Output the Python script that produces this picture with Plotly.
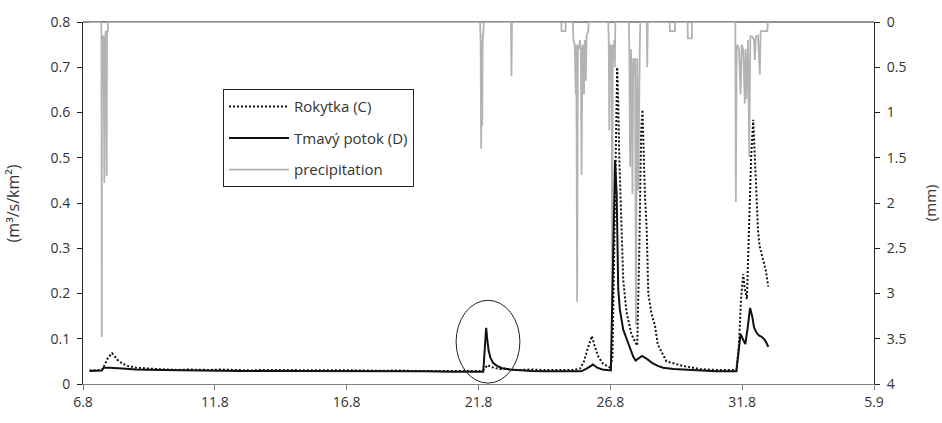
import plotly.graph_objects as go

# x axis: days since 6.8 (6 August)
tick_days = [0, 5, 10, 15, 20, 25, 30]
tick_labels = ["6.8", "11.8", "16.8", "21.8", "26.8", "31.8", "5.9"]

# Rokytka (C) specific discharge, m3/s/km2
rok_day = [0.25, 0.5, 0.72, 0.8, 0.95, 1.1, 1.2, 1.35, 1.5, 1.7, 2.0, 2.4, 2.8, 3.2, 3.6, 4.0, 4.4,
           4.8, 5.2, 5.6, 6.0, 6.4, 6.8, 7.2, 7.6, 8.0, 8.4, 8.8, 9.2, 9.6, 10.0, 10.4, 10.8, 11.2,
           11.6, 12.0, 12.4, 12.8, 13.2, 13.6, 14.0, 14.4, 14.8, 15.1, 15.2, 15.35, 15.45, 15.6,
           15.8, 16.0, 16.3, 16.6, 17.0, 17.4, 17.8, 18.2, 18.6, 18.85, 19.0, 19.15, 19.3, 19.4,
           19.55, 19.72, 19.85, 20.0, 20.08, 20.15, 20.22, 20.26, 20.3, 20.34, 20.43, 20.49, 20.61,
           20.8, 20.95, 21.02, 21.1, 21.17, 21.22, 21.25, 21.31, 21.38, 21.44, 21.56, 21.69, 21.8,
           22.13, 22.75, 23.4, 24.0, 24.4, 24.78, 24.87, 24.96, 25.04, 25.1, 25.18, 25.26, 25.34,
           25.42, 25.46, 25.5, 25.54, 25.6, 25.66, 25.74, 25.82, 25.9, 25.99]
rok_q = [0.030, 0.030, 0.031, 0.040, 0.058, 0.068, 0.062, 0.051, 0.045, 0.040, 0.036, 0.034, 0.033,
         0.032, 0.031, 0.032, 0.031, 0.031, 0.032, 0.031, 0.031, 0.030, 0.031, 0.031, 0.030, 0.031,
         0.030, 0.030, 0.031, 0.030, 0.030, 0.031, 0.030, 0.029, 0.030, 0.030, 0.029, 0.029, 0.030,
         0.029, 0.029, 0.030, 0.029, 0.029, 0.032, 0.042, 0.038, 0.036, 0.033, 0.034, 0.031, 0.031,
         0.032, 0.031, 0.031, 0.030, 0.031, 0.034, 0.050, 0.080, 0.106, 0.085, 0.060, 0.045, 0.040,
         0.036, 0.060, 0.330, 0.620, 0.700, 0.620, 0.500, 0.336, 0.230, 0.160, 0.110, 0.092, 0.085,
         0.300, 0.560, 0.606, 0.520, 0.420, 0.340, 0.200, 0.155, 0.130, 0.087, 0.050, 0.040, 0.033,
         0.031, 0.031, 0.031, 0.080, 0.190, 0.243, 0.210, 0.188, 0.340, 0.500, 0.584, 0.530, 0.460,
         0.405, 0.340, 0.305, 0.285, 0.270, 0.250, 0.215]

# Tmavy potok (D) specific discharge, m3/s/km2
tma_day = [0.25, 0.5, 0.71, 0.78, 1.0, 1.5, 2.0, 3.0, 4.0, 5.0, 6.0, 7.0, 8.0, 9.0, 10.0, 11.0, 12.0,
           13.0, 14.0, 15.0, 15.18, 15.24, 15.29, 15.33, 15.38, 15.45, 15.55, 15.7, 15.9, 16.2, 16.6,
           17.0, 17.5, 18.0, 18.5, 18.9, 19.1, 19.34, 19.5, 19.7, 20.02, 20.1, 20.18, 20.24, 20.26,
           20.3, 20.36, 20.49, 20.68, 20.87, 20.96, 21.1, 21.2, 21.4, 21.6, 21.8, 22.0, 22.4, 23.0,
           23.5, 24.0, 24.5, 24.78, 24.86, 24.94, 25.02, 25.12, 25.2, 25.3, 25.38, 25.45, 25.55,
           25.65, 25.75, 25.85, 25.93, 25.99]
tma_q = [0.029, 0.029, 0.030, 0.036, 0.036, 0.034, 0.032, 0.031, 0.030, 0.030, 0.029, 0.029, 0.029,
         0.029, 0.028, 0.028, 0.028, 0.028, 0.027, 0.027, 0.027, 0.080, 0.124, 0.100, 0.075, 0.058,
         0.047, 0.040, 0.035, 0.032, 0.030, 0.029, 0.028, 0.028, 0.027, 0.028, 0.034, 0.043, 0.036,
         0.032, 0.030, 0.300, 0.495, 0.420, 0.300, 0.210, 0.165, 0.120, 0.090, 0.060, 0.052, 0.058,
         0.062, 0.055, 0.046, 0.040, 0.036, 0.033, 0.031, 0.029, 0.028, 0.028, 0.028, 0.070, 0.110,
         0.100, 0.088, 0.120, 0.168, 0.150, 0.125, 0.113, 0.107, 0.104, 0.098, 0.090, 0.082]

# precipitation, mm
p_day = [0.25, 0.69, 0.70, 0.71, 0.72, 0.74, 0.75, 0.76, 0.78, 0.81, 0.82, 0.84, 0.86, 0.90, 0.91,
         0.94, 0.95,
         15.06, 15.08, 15.10, 15.12, 15.14, 15.16, 15.18, 15.20,
         16.23, 16.25, 16.27,
         18.14, 18.15, 18.30, 18.31,
         18.58, 18.60, 18.65, 18.69, 18.71, 18.74, 18.77, 18.81, 18.85, 18.88, 18.91, 18.94, 18.97,
         19.00, 19.03, 19.07, 19.10, 19.16, 19.18,
         19.92, 19.94, 19.96, 19.99, 20.02, 20.05, 20.07, 20.09, 20.12, 20.15, 20.17, 20.19,
         20.70, 20.72, 20.75, 20.78, 20.80, 20.84, 20.87, 20.90, 20.94, 20.97, 21.00, 21.02, 21.06,
         21.09, 21.12, 21.14,
         21.38, 21.40, 21.42,
         22.25, 22.26, 22.45, 22.46,
         22.93, 22.94, 23.09, 23.10,
         24.74, 24.76, 24.79, 24.82, 24.88, 24.94, 24.98, 25.04, 25.10, 25.13, 25.16, 25.22, 25.27,
         25.31, 25.38, 25.45, 25.48, 25.52, 25.60, 25.67, 25.70, 25.75, 25.85, 25.95, 25.98]
p_mm = [0.0, 0.0, 0.15, 3.48, 0.20, 0.15, 0.70, 0.20, 0.15, 1.78, 0.15, 0.20, 0.10, 1.70, 0.10,
        0.10, 0.0,
        0.0, 0.20, 1.40, 0.20, 1.15, 0.15, 0.15, 0.0,
        0.0, 0.60, 0.0,
        0.0, 0.10, 0.10, 0.0,
        0.0, 0.20, 0.25, 0.80, 0.25, 3.09, 0.25, 0.30, 0.20, 0.30, 1.69, 0.30, 0.25,
        0.80, 0.20, 0.65, 0.15, 0.10, 0.0,
        0.0, 0.20, 1.20, 0.25, 0.30, 0.25, 3.28, 0.25, 0.40, 0.20, 0.50, 0.0,
        0.0, 0.30, 1.60, 0.30, 0.50, 1.90, 0.40, 0.60, 0.40, 3.35, 0.40, 0.40, 1.86,
        0.30, 0.20, 0.0,
        0.0, 0.50, 0.0,
        0.0, 0.10, 0.10, 0.0,
        0.0, 0.18, 0.18, 0.0,
        0.0, 1.99, 0.30, 0.25, 0.30, 0.80, 0.25, 0.30, 0.90, 0.30, 0.85, 0.20, 1.49,
        0.16, 0.16, 0.20, 0.42, 0.16, 0.15, 0.58, 0.10, 0.10, 0.10, 0.10, 0.0]

# highlighted event (ellipse) in axis units
ell_x = [14.15, 16.57]
ell_y = [0.002, 0.185]

FONT = "Open Sans, Noto Sans, sans-serif"
TXT = "#333333"

fig = go.Figure()

fig.add_trace(go.Scatter(
    x=p_day, y=p_mm, mode="lines", name="precipitation", yaxis="y",
    line=dict(color="#b3b3b3", width=1.8), legendrank=3, legendgroup="c"))
fig.add_trace(go.Scatter(
    x=rok_day, y=rok_q, mode="lines", name="Rokytka (C)", yaxis="y2",
    line=dict(color="#111111", width=2, dash="2px,2px"), legendrank=1, legendgroup="a"))
fig.add_trace(go.Scatter(
    x=tma_day, y=tma_q, mode="lines", name="Tmavý potok (D)", yaxis="y2",
    line=dict(color="#111111", width=2), legendrank=2, legendgroup="b"))

fig.add_shape(type="line", xref="paper", yref="paper", x0=0, x1=1, y0=1, y1=1,
              line=dict(color="#222222", width=1), layer="below")
fig.add_shape(type="circle", xref="x", yref="y2", x0=ell_x[0], x1=ell_x[1],
              y0=ell_y[0], y1=ell_y[1], line=dict(color="#222222", width=1))

fig.add_annotation(text="(m³/s/km²)", xref="paper", yref="paper", x=-0.088, y=0.5,
                   xanchor="center", yanchor="middle", textangle=-90, showarrow=False,
                   font=dict(family=FONT, size=16, color=TXT))
fig.add_annotation(text="(mm)", xref="paper", yref="paper", x=1.071, y=0.5,
                   xanchor="center", yanchor="middle", textangle=-90, showarrow=False,
                   font=dict(family=FONT, size=15, color=TXT))

fig.update_layout(
    width=942, height=423,
    margin=dict(l=83, r=68, t=15, b=32),
    paper_bgcolor="white", plot_bgcolor="white",
    font=dict(family=FONT, size=14, color=TXT),
    showlegend=True,
    legend=dict(x=0.177, y=0.814, xanchor="left", yanchor="top",
                bordercolor="#222222", borderwidth=1, bgcolor="white",
                font=dict(family=FONT, size=15, color=TXT),
                traceorder="grouped", tracegroupgap=9, itemwidth=60),
    xaxis=dict(range=[0, 30], tickvals=tick_days, ticktext=tick_labels,
               showgrid=False, zeroline=False, showline=True, linecolor="#808080",
               linewidth=1, ticks="outside", ticklen=5, tickcolor="#808080",
               layer="below traces"),
    yaxis=dict(range=[4, 0], dtick=0.5, side="right", showgrid=False, zeroline=False,
               showline=True, linecolor="#222222", ticks="outside", ticklen=5,
               tickcolor="#222222", ticklabelstandoff=4),
    yaxis2=dict(range=[0, 0.8], dtick=0.1, side="left", overlaying="y", showgrid=False,
                zeroline=False, showline=True, linecolor="#222222", ticks="outside",
                ticklen=5, tickcolor="#222222", ticklabelstandoff=4),
)

fig.write_html("out.html")
